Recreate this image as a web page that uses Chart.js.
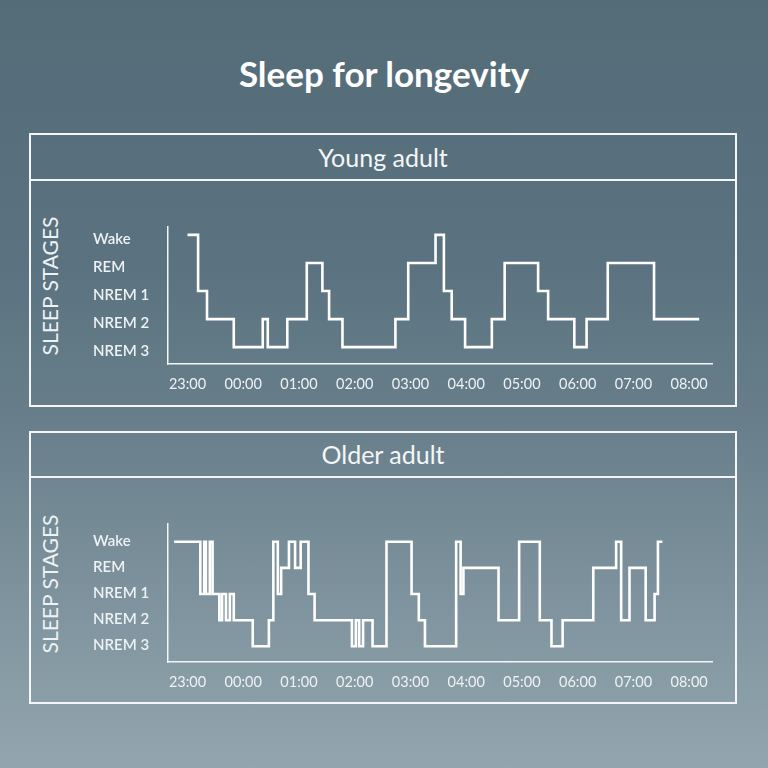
<!DOCTYPE html>
<html lang="en">
<head>
<meta charset="utf-8">
<title>Sleep for longevity</title>
<script src="https://cdn.jsdelivr.net/npm/chart.js@4.4.1/dist/chart.umd.min.js"></script>
<style>
  html, body { margin: 0; padding: 0; }
  body {
    width: 768px; height: 768px; position: relative; overflow: hidden;
    background: linear-gradient(to bottom, #546b78 0%, #5b7280 35%, #687f8b 55%, #93a6af 100%);
    font-family: Lato, 'Open Sans', sans-serif; color: #fff;
  }
  h1 {
    position: absolute; left: 0; top: 53px; width: 768px; margin: 0;
    text-align: center; font-size: 35px; line-height: 40px; font-weight: 700;
  }
  .panel { position: absolute; left: 29px; width: 704px; border: 2px solid #f4f6f7; }
  .panel h2 {
    margin: 0; border-bottom: 2px solid #f4f6f7; text-align: center;
    font-size: 25px; font-weight: 400; color: #f4f6f7;
  }
  .axis-title {
    position: absolute; left: -50px; width: 200px; height: 22px; line-height: 22px;
    text-align: center; font-size: 21px; color: #eef2f4;
    transform: rotate(-90deg);
  }
  canvas { position: absolute; left: 93px; }
</style>
</head>
<body>

<h1>Sleep for longevity</h1>

<div class="panel" style="top:133px; height:270px;">
  <h2 style="height:44px; line-height:44px;">Young adult</h2>
</div>
<div class="axis-title" style="top:275px;">SLEEP STAGES</div>
<canvas id="young" width="637" height="185" style="top:215px;"></canvas>

<div class="panel" style="top:431px; height:269px;">
  <h2 style="height:43px; line-height:43px;">Older adult</h2>
</div>
<div class="axis-title" style="top:573px;">SLEEP STAGES</div>
<canvas id="older" width="637" height="186" style="top:512px;"></canvas>

<script>
/* ======================================================
   DATA — hours after 23:00, stage that starts at that hour
   (last entry closes the night)
====================================================== */

const timeLabels = ['23:00', '00:00', '01:00', '02:00', '03:00', '04:00', '05:00', '06:00', '07:00', '08:00'];

// index in this list = level on the y axis
const stageLabels = ['NREM 3', 'NREM 2', 'NREM 1', 'REM', 'Wake'];

const youngHours = [0, 0.19, 0.35, 0.83, 1.35, 1.44, 1.79, 2.14, 2.42, 2.54, 2.78, 3.73, 3.96,
  4.45, 4.60, 4.74, 4.98, 5.46, 5.69, 6.29, 6.47, 6.94, 7.16, 7.54, 8.37, 9.18];
const youngStages = ['Wake', 'NREM 1', 'NREM 2', 'NREM 3', 'NREM 2', 'NREM 3', 'NREM 2', 'REM',
  'NREM 1', 'NREM 2', 'NREM 3', 'NREM 2', 'REM', 'Wake', 'NREM 1', 'NREM 2', 'NREM 3', 'NREM 2',
  'REM', 'NREM 1', 'NREM 2', 'NREM 3', 'NREM 2', 'REM', 'NREM 2', 'NREM 2'];

const olderHours = [-0.24, 0.23, 0.30, 0.33, 0.40, 0.45, 0.57, 0.62, 0.69, 0.76, 0.83, 1.17, 1.46,
  1.54, 1.62, 1.68, 1.82, 1.93, 2.03, 2.17, 2.28, 2.95, 3.02, 3.08, 3.15, 3.32, 3.57, 4.02, 4.15,
  4.26, 4.82, 4.90, 4.95, 5.58, 5.95, 6.32, 6.53, 6.73, 7.28, 7.69, 7.78, 7.93, 8.22, 8.38, 8.44, 8.52];
const olderStages = ['Wake', 'NREM 1', 'Wake', 'NREM 1', 'Wake', 'NREM 1', 'NREM 2', 'NREM 1',
  'NREM 2', 'NREM 1', 'NREM 2', 'NREM 3', 'NREM 2', 'Wake', 'NREM 1', 'REM', 'Wake', 'REM', 'Wake',
  'NREM 1', 'NREM 2', 'NREM 3', 'NREM 2', 'NREM 3', 'NREM 2', 'NREM 3', 'Wake', 'NREM 1', 'NREM 2',
  'NREM 3', 'Wake', 'NREM 1', 'REM', 'NREM 2', 'Wake', 'NREM 2', 'NREM 3', 'NREM 2', 'REM', 'Wake',
  'NREM 2', 'REM', 'NREM 2', 'NREM 1', 'Wake', 'Wake'];

/* ======================================================
   HELPERS
====================================================== */

const TEXT = '#eef2f4';
const FONT = 'Lato, "Open Sans", sans-serif';

function buildSteps(hours, stages) {
  return hours.map((h, i) => ({ x: h, y: stageLabels.indexOf(stages[i]) }));
}

/* ======================================================
   STEP CHART — one night of sleep
====================================================== */

function renderSleepChart(canvas, hours, stages, yMax, labelOffset) {
  return new Chart(canvas, {
    type: 'line',
    data: {
      datasets: [{
        data: buildSteps(hours, stages),
        stepped: true,
        borderColor: '#ffffff',
        borderWidth: 2.6,
        borderJoinStyle: 'miter',
        pointRadius: 0,
        fill: false
      }]
    },
    options: {
      responsive: false,
      animation: false,
      layout: { padding: { top: 10, right: 18, left: 0, bottom: 0 } },
      plugins: { legend: { display: false }, tooltip: { enabled: false } },
      scales: {
        x: {
          type: 'linear',
          min: -0.35,
          max: 9.41,
          grid: { display: false },
          border: { display: true, color: '#f4f6f7', width: 1.5 },
          ticks: {
            color: TEXT,
            font: { family: FONT, size: 14.5 },
            padding: 4,
            autoSkip: false,
            maxRotation: 0,
            callback: v => timeLabels[v]
          },
          afterBuildTicks: s => { s.ticks = timeLabels.map((_, i) => ({ value: i })); },
          afterFit: s => { s.height = 36; }
        },
        y: {
          min: -0.6,
          max: yMax,
          grid: { display: false },
          border: { display: true, color: '#f4f6f7', width: 1.5 },
          ticks: {
            color: TEXT,
            font: { family: FONT, size: 15, weight: 600 },
            crossAlign: 'far',
            labelOffset,
            callback: v => stageLabels[v]
          },
          afterBuildTicks: s => { s.ticks = stageLabels.map((_, i) => ({ value: i })); },
          afterFit: s => { s.width = 75; }
        }
      }
    }
  });
}

renderSleepChart(document.getElementById('young'), youngHours, youngStages, 4.28, 4);
renderSleepChart(document.getElementById('older'), olderHours, olderStages, 4.68, -1);
</script>
</body>
</html>
